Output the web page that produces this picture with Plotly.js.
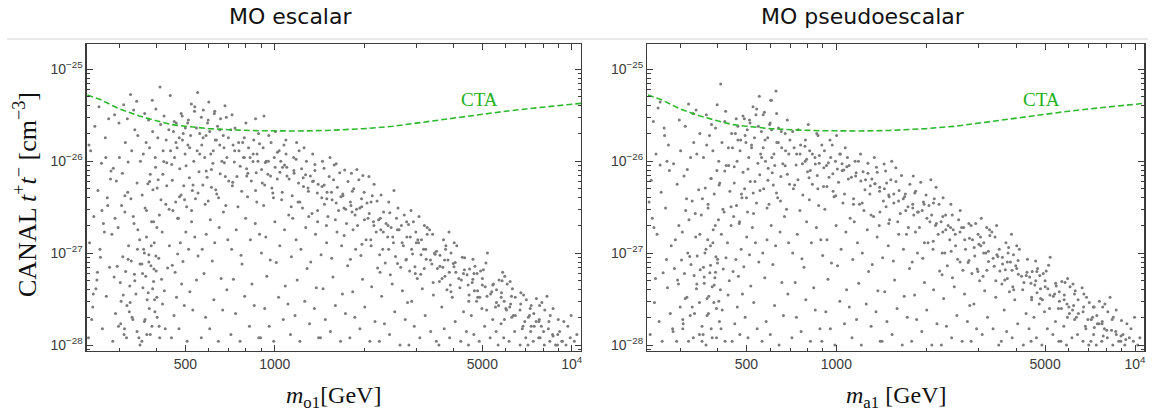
<!DOCTYPE html>
<html>
<head>
<meta charset="utf-8">
<script src="https://cdn.plot.ly/plotly-3.0.1.min.js"></script>
<style>html,body{margin:0;padding:0;background:#fff;}#chart{width:1157px;height:412px;}</style>
</head>
<body>
<div id="chart"></div>
<script>
// ---------- DATA ----------
const panelTitles = ['MO escalar', 'MO pseudoescalar'];
const xTitles = ['<i>m</i><sub>o1</sub>[GeV]', '<i>m</i><sub>a1</sub> [GeV]'];
const yTitle = 'CANAL <i>t</i><sup>+</sup><i>t</i><sup>\u2212</sup> [cm<sup>\u22123</sup>]';
const curveLabel = 'CTA';

const xTickVals = [500, 1000, 5000, 10000];
const xTickText = ['500', '1000', '5000', '10<sup>4</sup>'];
const xMinorVals = [300, 400, 600, 700, 800, 900, 2000, 3000, 4000, 6000, 7000, 8000, 9000];
const yTickVals = [1e-28, 1e-27, 1e-26, 1e-25];
const yTickText = ['10<sup>\u221228</sup>', '10<sup>\u221227</sup>', '10<sup>\u221226</sup>', '10<sup>\u221225</sup>'];
const yMinorVals = [9e-29,
  2e-28,3e-28,4e-28,5e-28,6e-28,7e-28,8e-28,9e-28,
  2e-27,3e-27,4e-27,5e-27,6e-27,7e-27,8e-27,9e-27,
  2e-26,3e-26,4e-26,5e-26,6e-26,7e-26,8e-26,9e-26];

// CTA sensitivity curve (same in both panels)
const ctaMass  = [234, 260, 300, 350, 400, 450, 500, 600, 700, 800, 900, 1000, 1200, 1500, 2000, 2500, 3000, 4000, 5000, 6000, 7000, 8000, 9000, 10000, 10800];
const ctaSigma = [5.25e-26, 4.65e-26, 3.7e-26, 3.1e-26, 2.75e-26, 2.5e-26, 2.4e-26, 2.26e-26, 2.2e-26, 2.16e-26, 2.14e-26, 2.14e-26, 2.13e-26, 2.16e-26, 2.26e-26, 2.4e-26, 2.6e-26, 2.95e-26, 3.26e-26, 3.5e-26, 3.7e-26, 3.85e-26, 4.0e-26, 4.15e-26, 4.27e-26];

// Scalar mediator scan points (mass in GeV, cross section in cm^3)
const escalarMass = [
 236,244,252,259,267,274,280,240,248,256,
 263,271,278,238,246,254,261,269,276,242,
 250,258,265,273,281,237,245,253,262,270,
 285,291,298,304,311,318,325,333,341,349,
 288,295,302,308,315,322,329,337,345,352,
 283,290,297,305,313,320,328,336,344,351,
 286,293,300,307,314,321,330,338,346,353,
 289,299,310,319,327,335,343,312,324,
 357,364,371,378,386,394,402,410,419,428,
 360,368,375,383,391,399,407,416,425,436,
 362,370,377,385,393,401,409,418,430,442,
 358,366,374,381,389,397,405,414,423,433,
 361,369,379,388,396,404,413,421,431,440,
 365,376,387,398,411,424,445,
 449,458,467,476,486,496,507,518,530,545,
 452,462,471,481,491,502,513,525,538,552,
 454,464,474,484,494,505,516,528,541,556,
 450,460,469,479,489,499,510,521,534,548,
 456,466,477,488,500,512,524,537,550,559,
 566,585,604,624,646,668,690,578,616,660,
 570,588,607,628,650,672,695,597,638,684,
 573,592,612,633,655,677,700,581,621,664,
 568,587,609,631,653,675,698,594,642,687,
 575,600,626,657,680,
 712,738,764,792,822,853,884,726,776,838,
 716,742,770,798,828,860,889,752,810,870,
 720,746,774,804,834,866,731,785,846,878,
 724,758,790,816,850,882,735,800,862,718,
 896,925,958,992,1030,1068,1108,940,1012,1085,
 902,933,966,1001,1040,1079,1115,918,985,1055,
 908,948,978,1020,1062,1100,930,996,1048,1092,
 914,972,1035,1074,955,1005,1090,920,
 1130,1170,1215,1262,1310,1360,1405,1190,1285,1380,
 1138,1180,1225,1272,1322,1372,1150,1240,1335,1395,
 1145,1198,1250,1298,1350,1400,1162,1232,1318,1365,
 1158,1208,1278,1342,1185,1255,
 1425,1480,1540,1600,1665,1730,1455,1570,1690,1760,
 1432,1495,1555,1620,1680,1745,1510,1640,1470,1710,
 1440,1500,1560,1625,1695,1765,1525,1655,1465,1585,
 1448,1535,1610,1720,
 1790,1860,1935,2010,2090,2175,1830,1975,2120,2220,
 1798,1872,1950,2030,2110,2195,1900,2060,1820,2150,
 1805,1885,1960,2045,2130,2210,1845,2000,2160,1920,
 1812,1890,2075,1980,
 2250,2340,2435,2535,2640,2750,2290,2485,2690,2800,
 2262,2355,2450,2550,2655,2765,2310,2510,2710,2400,
 2275,2370,2465,2570,2670,2780,2325,2600,2420,2730,
 2280,2520,
 2830,2950,3080,3210,3350,3500,2890,3140,3420,3020,
 2845,2965,3100,3235,3380,3530,2910,3170,3450,3050,
 2860,2985,3120,3260,3400,2930,3190,3320,3060,2875,
 3570,3720,3880,4050,4230,4420,3650,3960,4320,3800,
 3585,3740,3900,4070,4250,4440,3680,3990,4350,3830,
 3600,3760,3920,4100,4280,3700,4020,3860,
 4490,4680,4880,5090,5310,5560,4590,4980,5420,4780,
 4510,4700,4900,5110,5330,5580,4620,5000,5450,4800,
 4530,4720,4930,5140,4650,5200,
 5650,5900,6150,6420,6700,7000,5780,6280,6850,6030,
 5670,5920,6180,6450,6730,7030,5800,6310,6880,6060,
 5690,5950,6200,5850,
 7120,7420,7740,8080,8430,8820,7270,7900,8620,7580,
 7140,7450,7770,8110,8460,7300,7930,8650,7600,8250,
 8950,9250,9560,9880,10200,9100,9700,10400,9400,9950
];
const escalarSigma = [
 1.2e-28,2.6e-28,5.1e-28,9e-28,1.7e-27,3.3e-27,6.4e-27,1.3e-26,2.4e-26,3.9e-26,
 1.5e-28,3.4e-28,7e-28,1.3e-27,2.5e-27,4.8e-27,9.5e-27,1.8e-26,2.9e-26,1.9e-28,
 4.1e-28,1.1e-27,2.1e-27,4e-27,7.8e-27,1.5e-26,3.6e-28,6.2e-28,2.9e-27,1.1e-26,
 1.1e-28,2.2e-28,1.6e-28,3.0e-28,1.3e-28,2.7e-28,4.4e-28,1.9e-28,3.6e-28,1.2e-28,
 5.5e-28,7.2e-28,4.8e-28,9.1e-28,6.3e-28,1.2e-27,8.2e-28,5.9e-28,1.1e-27,7.6e-28,
 1.6e-27,2.4e-27,1.9e-27,3.3e-27,2.8e-27,4.6e-27,3.9e-27,2.1e-27,5.8e-27,1.4e-27,
 8.4e-27,6.1e-27,1.1e-26,7.4e-27,1.6e-26,9.8e-27,1.3e-26,2.2e-26,1.9e-26,1.0e-26,
 3.2e-26,2.6e-26,4.1e-26,2.9e-26,5.3e-26,3.6e-26,4.5e-26,1.5e-28,2.3e-28,
 1.1e-28,1.8e-28,1.3e-28,2.5e-28,1.6e-28,3.1e-28,2.0e-28,1.2e-28,2.8e-28,1.5e-28,
 4.2e-28,5.6e-28,3.7e-28,7.3e-28,4.9e-28,6.4e-28,8.8e-28,5.2e-28,3.9e-28,6.9e-28,
 1.1e-27,1.5e-27,9.6e-28,2.2e-27,1.3e-27,1.9e-27,2.6e-27,1.7e-27,3.4e-27,1.2e-27,
 4.3e-27,3.1e-27,5.7e-27,7.2e-27,4.9e-27,8.6e-27,6.3e-27,3.8e-27,9.9e-27,5.4e-27,
 1.2e-26,1.6e-26,1.4e-26,2.1e-26,1.1e-26,1.8e-26,2.5e-26,1.3e-26,1.7e-26,2.2e-26,
 3.3e-26,2.8e-26,4.6e-26,3.7e-26,6.4e-26,3.1e-26,5.2e-26,
 1.2e-28,2.1e-28,3.3e-28,1.5e-28,4.6e-28,2.7e-28,1.1e-28,3.8e-28,2.4e-28,5.1e-28,
 7.4e-28,6.2e-28,9.8e-28,1.3e-27,8.1e-28,1.7e-27,1.1e-27,2.2e-27,1.5e-27,9.3e-28,
 2.9e-27,3.6e-27,2.4e-27,4.3e-27,5.4e-27,3.2e-27,6.6e-27,4.8e-27,3.9e-27,7.7e-27,
 9.2e-27,1.1e-26,1.4e-26,8.3e-27,1.7e-26,1.2e-26,1.5e-26,1.9e-26,1.0e-26,1.3e-26,
 2.1e-26,2.6e-26,1.8e-26,3.1e-26,2.3e-26,2.8e-26,4.2e-26,3.5e-26,5.6e-26,2.0e-26,
 1.2e-28,2.0e-28,1.5e-28,3.1e-28,1.1e-28,2.4e-28,4.0e-28,6.0e-28,8.2e-28,5.3e-28,
 1.1e-27,1.6e-27,2.3e-27,1.3e-27,1.9e-27,2.8e-27,1.4e-27,3.7e-27,4.4e-27,3.3e-27,
 5.5e-27,6.7e-27,8.1e-27,4.9e-27,7.3e-27,9.6e-27,6.1e-27,1.1e-26,1.3e-26,1.0e-26,
 1.5e-26,1.9e-26,1.2e-26,1.7e-26,2.2e-26,1.4e-26,1.8e-26,2.6e-26,2.4e-26,3.0e-26,
 3.6e-26,4.4e-26,3.3e-26,2.9e-26,4.0e-26,
 1.3e-28,2.2e-28,1.1e-28,3.4e-28,1.6e-28,2.7e-28,1.2e-28,5.2e-28,7.6e-28,4.6e-28,
 1.1e-27,1.8e-27,9.5e-28,2.4e-27,1.4e-27,2.1e-27,1.6e-27,3.2e-27,4.1e-27,3.6e-27,
 5.4e-27,6.8e-27,4.7e-27,8.3e-27,6.1e-27,7.5e-27,9.8e-27,1.1e-26,1.2e-26,1.0e-26,
 1.5e-26,1.3e-26,1.8e-26,1.4e-26,1.7e-26,2.0e-26,2.3e-26,2.6e-26,2.9e-26,3.2e-26,
 1.2e-28,2.5e-28,1.6e-28,1.1e-28,3.3e-28,1.9e-28,2.8e-28,5.6e-28,7.9e-28,4.4e-28,
 1.0e-27,1.5e-27,8.4e-28,2.2e-27,1.2e-27,1.8e-27,2.6e-27,3.3e-27,4.5e-27,3.8e-27,
 5.8e-27,7.2e-27,5.1e-27,6.4e-27,8.6e-27,6.9e-27,9.7e-27,1.1e-26,1.0e-26,1.2e-26,
 1.4e-26,1.6e-26,1.3e-26,1.5e-26,1.9e-26,2.1e-26,1.7e-26,3.1e-26,
 1.3e-28,2.1e-28,1.1e-28,3.0e-28,1.7e-28,2.5e-28,1.2e-28,5.1e-28,6.8e-28,4.2e-28,
 9.1e-28,1.4e-27,1.1e-27,1.9e-27,8.0e-28,1.6e-27,2.4e-27,3.1e-27,2.7e-27,2.2e-27,
 4.2e-27,3.6e-27,5.3e-27,4.7e-27,6.1e-27,5.6e-27,7.4e-27,8.3e-27,6.9e-27,9.2e-27,
 1.1e-26,1.3e-26,1.0e-26,1.2e-26,1.6e-26,1.4e-26,
 1.2e-28,1.9e-28,1.4e-28,2.7e-28,1.1e-28,2.2e-28,4.1e-28,5.5e-28,3.6e-28,7.3e-28,
 9.6e-28,1.3e-27,8.8e-28,1.7e-27,1.2e-27,2.1e-27,2.5e-27,2.9e-27,3.4e-27,3.1e-27,
 4.0e-27,4.6e-27,3.8e-27,5.2e-27,4.4e-27,6.0e-27,6.8e-27,7.5e-27,8.4e-27,9.1e-27,
 1.0e-26,1.1e-26,9.4e-27,8.0e-27,
 1.2e-28,2.0e-28,1.5e-28,2.6e-28,1.1e-28,1.8e-28,3.8e-28,5.2e-28,4.3e-28,6.9e-28,
 8.6e-28,1.1e-27,9.4e-28,1.4e-27,1.2e-27,1.7e-27,2.0e-27,2.4e-27,2.8e-27,2.2e-27,
 3.3e-27,3.0e-27,3.9e-27,3.5e-27,4.2e-27,3.7e-27,5.0e-27,4.6e-27,5.6e-27,6.3e-27,
 7.4e-27,8.1e-27,6.8e-27,7.0e-27,
 1.1e-28,1.7e-28,1.3e-28,2.3e-28,1.0e-28,1.9e-28,3.4e-28,4.6e-28,3.9e-28,2.9e-28,
 6.2e-28,7.8e-28,5.8e-28,9.2e-28,7.0e-28,8.4e-28,1.1e-27,1.3e-27,1.2e-27,1.5e-27,
 1.8e-27,2.1e-27,1.9e-27,2.4e-27,2.0e-27,2.2e-27,2.8e-27,3.1e-27,3.6e-27,2.6e-27,
 4.3e-27,4.8e-27,
 1.0e-28,1.6e-28,1.2e-28,2.1e-28,1.4e-28,1.1e-28,3.0e-28,4.1e-28,3.5e-28,5.3e-28,
 6.4e-28,7.1e-28,5.9e-28,8.6e-28,7.6e-28,6.8e-28,9.8e-28,1.1e-27,1.0e-27,1.3e-27,
 1.5e-27,1.7e-27,1.4e-27,1.9e-27,1.6e-27,2.2e-27,2.0e-27,1.8e-27,2.5e-27,2.9e-27,
 1.0e-28,1.5e-28,1.2e-28,1.8e-28,1.1e-28,1.4e-28,2.6e-28,3.3e-28,2.3e-28,4.0e-28,
 4.9e-28,5.6e-28,4.5e-28,6.2e-28,5.1e-28,5.8e-28,7.0e-28,7.7e-28,6.6e-28,8.4e-28,
 9.5e-28,1.1e-27,1.0e-27,1.2e-27,9.0e-28,1.4e-27,1.3e-27,1.7e-27,
 1.0e-28,1.3e-28,1.1e-28,1.6e-28,1.2e-28,1.4e-28,2.1e-28,2.5e-28,1.9e-28,3.0e-28,
 3.5e-28,3.9e-28,3.3e-28,4.3e-28,3.6e-28,4.0e-28,4.8e-28,5.3e-28,4.6e-28,6.0e-28,
 6.7e-28,7.2e-28,6.4e-28,7.8e-28,8.6e-28,1.0e-27,
 1.0e-28,1.2e-28,1.1e-28,1.4e-28,1.0e-28,1.2e-28,1.7e-28,2.0e-28,1.6e-28,2.4e-28,
 2.7e-28,3.0e-28,2.6e-28,3.3e-28,2.8e-28,3.1e-28,3.7e-28,4.1e-28,3.5e-28,4.6e-28,
 5.1e-28,5.6e-28,4.9e-28,6.2e-28,
 1.0e-28,1.1e-28,1.2e-28,1.0e-28,1.1e-28,1.0e-28,1.4e-28,1.6e-28,1.3e-28,1.8e-28,
 2.0e-28,2.2e-28,1.9e-28,2.4e-28,2.1e-28,2.7e-28,2.9e-28,2.5e-28,3.2e-28,3.4e-28,
 1.0e-28,1.1e-28,1.0e-28,1.2e-28,1.1e-28,1.4e-28,1.6e-28,1.3e-28,1.8e-28,2.1e-28
];

// Scalar: extra points in the dense regions (low streak, mid cloud, diagonal band)
const escalarDenseMass = [
 303,317,331,344,309,326,338,352,366,381,
 395,372,388,401,359,377,392,408,364,384,
 398,370,391,357,402,379,346,321,334,313,
 452,478,503,531,559,588,619,653,690,733,
 465,492,517,545,574,604,636,671,711,756,
 441,471,497,525,552,583,612,647,682,722,
 420,433,446,459,484,509,538,566,597,628,
 765,790,812,845,872,903,936,968,1003,1041,
 1079,1118,1160,1203,1247,1294,1341,1391,1443,1497,
 1552,1610,1670,1732,1797,1864,1933,2005,2080,2157,
 2237,2320,2407,2496,2589,2685,2785,2889,2996,3108,
 3223,3343,3468,3597,3730,3869,4013,4163,4318,4478,
 4645,4818,4997,5183,5376,5576,5784,6000,6223,6455,
 6695,6945,7204,7472,7750,8038,8338,8648,8970,9304,
 780,826,889,952,1021,1098,1180,1270,1365,1468,
 1578,1697,1825,1962,2110,2268,2439,2622,2820,3032,
 3260,3505,3769,4053,4358,4686,5039,5418,5826,6265,
 6736,7243,7789,8375,9005,
 805,862,925,990,1060,1136,1215,1302,1394,1493,
 1600,1712,1835,1966,2105,2256,2418,2590,2775,2973,
 3186,3414,3658,3919,4200,4500,4822,5167,5536,5933,
 6357,6812,7300,7822
];
const escalarDenseSigma = [
 1.7e-28,1.2e-28,2.0e-28,1.4e-28,3.5e-28,2.9e-28,5.0e-28,1.0e-28,1.9e-28,1.3e-28,
 2.3e-28,3.1e-28,4.1e-28,3.3e-28,6.0e-28,8.0e-28,6.7e-28,1.6e-28,1.0e-27,1.2e-27,
 9.3e-28,2.9e-27,2.2e-27,7.6e-28,5.1e-27,6.0e-27,1.8e-27,8.6e-28,2.5e-27,4.2e-27,
 6.2e-27,4.1e-27,8.9e-27,5.5e-27,1.2e-26,7.8e-27,9.5e-27,1.5e-26,1.1e-26,1.3e-26,
 1.6e-26,2.0e-26,1.4e-26,2.3e-26,1.8e-26,2.1e-26,1.7e-26,1.9e-26,2.2e-26,1.6e-26,
 3.0e-27,2.4e-27,3.8e-27,2.9e-27,4.5e-27,3.4e-27,5.2e-27,4.0e-27,6.8e-27,5.9e-27,
 7.2e-27,9.6e-27,1.3e-26,2.7e-26,3.3e-26,2.6e-26,3.9e-26,3.0e-26,2.8e-26,3.5e-26,
 8.8e-27,1.1e-26,7.4e-27,9.9e-27,1.2e-26,8.1e-27,1.0e-26,6.9e-27,8.6e-27,7.6e-27,
 9.1e-27,6.4e-27,7.9e-27,5.8e-27,6.6e-27,5.1e-27,6.0e-27,4.5e-27,5.3e-27,3.9e-27,
 4.6e-27,3.5e-27,4.1e-27,3.0e-27,3.6e-27,2.6e-27,3.1e-27,2.3e-27,2.7e-27,2.0e-27,
 2.3e-27,1.7e-27,2.0e-27,1.5e-27,1.8e-27,1.3e-27,1.5e-27,1.1e-27,1.3e-27,9.6e-28,
 1.1e-27,8.4e-28,9.7e-28,7.2e-28,8.4e-28,6.2e-28,7.1e-28,5.3e-28,6.0e-28,4.5e-28,
 5.2e-28,3.9e-28,4.5e-28,3.4e-28,3.8e-28,2.9e-28,3.3e-28,2.5e-28,2.8e-28,2.1e-28,
 2.4e-28,1.8e-28,2.1e-28,1.6e-28,1.8e-28,1.4e-28,1.5e-28,1.25e-28,1.3e-28,1.1e-28,
 1.6e-26,1.1e-26,1.55e-26,1.0e-26,1.25e-26,8.6e-27,1.05e-26,7.1e-27,7.9e-27,5.5e-27,
 6.3e-27,4.2e-27,4.7e-27,3.2e-27,3.6e-27,2.4e-27,2.75e-27,1.8e-27,2.05e-27,1.4e-27,
 1.6e-27,1.05e-27,1.2e-27,7.9e-28,8.9e-28,6.0e-28,6.6e-28,4.5e-28,5.0e-28,3.4e-28,
 3.7e-28,2.5e-28,2.7e-28,1.8e-28,1.9e-28,
 6.9e-27,4.8e-27,5.5e-27,4.0e-27,4.6e-27,3.2e-27,3.6e-27,2.5e-27,2.9e-27,2.0e-27,
 2.3e-27,1.55e-27,1.8e-27,1.25e-27,1.4e-27,9.6e-28,1.1e-27,7.7e-28,8.6e-28,6.0e-28,
 6.8e-28,4.8e-28,5.3e-28,3.8e-28,4.2e-28,3.0e-28,3.3e-28,2.4e-28,2.6e-28,1.9e-28,
 2.1e-28,1.5e-28,1.6e-28,1.2e-28
];

// Pseudoscalar mediator scan points
const pseudoMass = [
 238,246,255,263,272,280,242,251,259,268,
 276,240,249,257,266,274,244,253,261,270,
 278,236,248,265,271,257,283,245,
 284,292,300,307,316,324,332,340,348,355,
 287,294,303,310,318,326,334,342,350,296,
 289,297,305,313,321,329,338,346,353,309,
 285,293,301,317,325,333,341,349,312,331,
 298,320,339,306,
 358,366,373,381,389,397,406,415,424,434,
 361,369,377,384,392,400,409,418,427,438,
 363,371,379,387,395,403,412,421,432,444,
 356,364,372,380,390,398,407,417,428,440,
 359,368,376,386,394,404,414,423,435,446,
 367,382,399,410,426,
 448,457,466,475,485,495,506,517,529,543,
 451,461,470,480,490,501,512,523,536,550,
 453,463,473,483,493,504,515,527,540,554,
 455,465,476,487,498,509,520,532,546,558,
 459,468,478,492,503,514,526,538,552,561,
 564,582,601,621,643,665,688,576,613,657,
 567,586,605,626,648,670,692,595,636,681,
 571,590,610,630,652,674,697,579,618,662,
 569,589,608,632,654,676,699,598,640,685,
 574,603,628,606,
 710,735,762,790,819,850,881,728,779,840,
 714,740,767,795,825,857,887,755,812,872,
 718,744,772,801,831,863,733,786,848,876,
 722,756,788,814,868,745,805,860,
 894,922,955,989,1027,1065,1105,937,1009,1082,
 900,930,963,998,1037,1076,1112,915,982,1052,
 906,945,975,1017,1059,1097,927,993,1045,1089,
 912,969,1032,1071,952,1002,
 1128,1168,1212,1259,1307,1357,1402,1188,1282,1377,
 1135,1177,1222,1269,1319,1369,1148,1237,1332,1392,
 1142,1195,1247,1295,1347,1397,1160,1229,1315,1362,
 1155,1205,1275,1340,
 1422,1477,1537,1597,1662,1727,1452,1567,1687,1757,
 1429,1492,1552,1617,1677,1742,1507,1637,1467,1707,
 1437,1497,1557,1622,1692,1762,1522,1652,1462,1582,
 1445,1532,
 1787,1857,1932,2007,2087,2172,1827,1972,2117,2217,
 1795,1869,1947,2027,2107,2192,1897,2057,1817,2147,
 1802,1882,1957,2042,2127,2207,1842,1997,2157,1917,
 1809,2072,
 2247,2337,2432,2532,2637,2747,2287,2482,2687,2797,
 2259,2352,2447,2547,2652,2762,2307,2507,2707,2397,
 2272,2367,2462,2567,2667,2777,2322,2597,2417,2277,
 2827,2947,3077,3207,3347,3497,2887,3137,3417,3017,
 2842,2962,3097,3232,3377,3527,2907,3167,3447,3047,
 2857,2982,3117,3257,3397,2927,3187,3317,3057,3440,
 3567,3717,3877,4047,4227,4417,3647,3957,4317,3797,
 3582,3737,3897,4067,4247,4437,3677,3987,4347,3827,
 3597,3757,3917,4097,3697,4017,3857,
 4487,4677,4877,5087,5307,5557,4587,4977,5417,4777,
 4507,4697,4897,5107,5327,5577,4617,4997,5447,4797,
 4527,4717,4927,5137,4647,5197,
 5647,5897,6147,6417,6697,6997,5777,6277,6847,6027,
 5667,5917,6177,6447,6727,7027,5797,6307,6877,6057,
 5687,5947,6197,6650,
 7117,7417,7737,8077,8427,8817,7267,7897,8617,7577,
 7137,7447,7767,8107,8457,7297,7927,8647,7597,8247,
 8960,9240,9570,9870,10210,9110,9690,10380,9390,9960
];
const pseudoSigma = [
 1.3e-28,2.9e-28,1.8e-28,6.1e-28,4.2e-28,1.2e-27,2.4e-27,1.6e-27,4.6e-27,3.1e-27,
 7.9e-27,6.2e-27,1.2e-26,9.1e-27,1.9e-26,1.5e-26,2.7e-26,3.8e-26,1.1e-28,8.5e-28,
 2.2e-28,3.6e-27,5.3e-28,2.3e-26,1.0e-26,4.4e-26,1.5e-28,1.9e-27,
 1.4e-28,1.1e-28,2.6e-28,1.7e-28,3.3e-28,2.1e-28,1.2e-28,4.1e-28,2.9e-28,1.6e-28,
 6.8e-28,5.1e-28,8.4e-28,6.0e-28,1.0e-27,7.5e-28,5.7e-28,9.3e-28,6.6e-28,4.6e-28,
 1.4e-27,2.0e-27,1.7e-27,2.9e-27,2.3e-27,3.7e-27,1.5e-27,4.9e-27,2.6e-27,6.9e-27,
 9.4e-27,5.6e-27,1.3e-26,8.1e-27,1.1e-26,1.6e-26,1.2e-26,2.0e-26,2.4e-26,3.3e-26,
 2.8e-26,4.2e-26,3.6e-26,1.9e-28,
 1.3e-28,1.0e-28,2.2e-28,1.5e-28,2.9e-28,1.2e-28,1.8e-28,2.4e-28,1.1e-28,3.5e-28,
 4.7e-28,3.2e-28,6.1e-28,4.3e-28,5.4e-28,7.8e-28,4.0e-28,6.7e-28,8.9e-28,5.0e-28,
 1.0e-27,1.4e-27,1.2e-27,1.8e-27,9.1e-28,2.3e-27,1.6e-27,2.8e-27,1.3e-27,2.0e-27,
 3.9e-27,5.1e-27,3.4e-27,6.5e-27,4.4e-27,7.9e-27,5.8e-27,3.0e-27,9.0e-27,4.7e-27,
 1.1e-26,1.5e-26,1.9e-26,1.3e-26,2.3e-26,1.0e-26,1.6e-26,2.7e-26,1.4e-26,2.0e-26,
 3.2e-26,2.5e-26,4.1e-26,6.9e-26,3.5e-26,
 1.1e-28,1.7e-28,2.6e-28,1.3e-28,3.6e-28,2.0e-28,1.2e-28,4.4e-28,2.9e-28,1.5e-28,
 6.3e-28,8.5e-28,5.6e-28,1.1e-27,7.1e-28,1.5e-27,9.6e-28,1.9e-27,1.3e-27,8.0e-28,
 2.5e-27,3.3e-27,2.1e-27,4.0e-27,5.0e-27,2.8e-27,6.0e-27,4.5e-27,3.5e-27,7.1e-27,
 8.7e-27,1.0e-26,1.3e-26,7.6e-27,1.6e-26,1.1e-26,1.4e-26,1.8e-26,9.5e-27,1.2e-26,
 2.0e-26,2.4e-26,1.7e-26,2.9e-26,2.2e-26,2.6e-26,3.9e-26,3.2e-26,5.1e-26,2.1e-26,
 1.1e-28,1.8e-28,1.3e-28,2.7e-28,1.0e-28,2.1e-28,3.6e-28,5.4e-28,7.5e-28,4.8e-28,
 1.0e-27,1.4e-27,2.0e-27,1.2e-27,1.7e-27,2.5e-27,1.3e-27,3.4e-27,4.0e-27,3.0e-27,
 5.0e-27,6.2e-27,7.5e-27,4.5e-27,6.8e-27,8.9e-27,5.6e-27,1.0e-26,1.2e-26,9.4e-27,
 1.4e-26,1.8e-26,1.1e-26,1.6e-26,2.1e-26,1.3e-26,1.7e-26,2.5e-26,2.3e-26,2.8e-26,
 3.4e-26,4.6e-26,5.8e-26,4.6e-26,
 1.2e-28,2.0e-28,1.4e-28,3.1e-28,1.1e-28,2.4e-28,1.5e-28,4.8e-28,7.0e-28,4.2e-28,
 1.0e-27,1.6e-27,8.7e-28,2.2e-27,1.3e-27,1.9e-27,1.4e-27,2.9e-27,3.8e-27,3.3e-27,
 5.0e-27,6.3e-27,4.3e-27,7.7e-27,5.6e-27,7.0e-27,9.1e-27,1.0e-26,1.1e-26,9.5e-27,
 1.4e-26,1.2e-26,1.7e-26,1.3e-26,1.9e-26,2.2e-26,2.5e-26,2.0e-26,
 1.1e-28,2.3e-28,1.5e-28,1.0e-28,3.0e-28,1.7e-28,2.6e-28,5.2e-28,7.3e-28,4.0e-28,
 9.4e-28,1.4e-27,7.8e-28,2.0e-27,1.1e-27,1.7e-27,2.4e-27,3.0e-27,4.1e-27,3.5e-27,
 5.3e-27,6.7e-27,4.7e-27,5.9e-27,8.0e-27,6.4e-27,9.0e-27,1.0e-26,9.4e-27,1.1e-26,
 1.3e-26,1.5e-26,1.2e-26,1.4e-26,1.7e-26,1.9e-26,
 1.2e-28,1.9e-28,1.0e-28,2.8e-28,1.6e-28,2.3e-28,1.1e-28,4.7e-28,6.3e-28,3.9e-28,
 8.5e-28,1.3e-27,1.0e-27,1.8e-27,7.5e-28,1.5e-27,2.2e-27,2.9e-27,2.5e-27,2.0e-27,
 3.9e-27,3.4e-27,4.9e-27,4.4e-27,5.7e-27,5.2e-27,6.9e-27,7.7e-27,6.4e-27,8.6e-27,
 1.0e-26,1.2e-26,9.5e-27,1.1e-26,
 1.1e-28,1.8e-28,1.3e-28,2.5e-28,1.0e-28,2.0e-28,3.8e-28,5.1e-28,3.4e-28,6.8e-28,
 8.9e-28,1.2e-27,8.2e-28,1.6e-27,1.1e-27,1.9e-27,2.3e-27,2.7e-27,3.2e-27,2.9e-27,
 3.7e-27,4.3e-27,3.5e-27,4.8e-27,4.1e-27,5.6e-27,6.3e-27,7.0e-27,7.8e-27,8.5e-27,
 9.3e-27,1.0e-26,
 1.1e-28,1.9e-28,1.4e-28,2.4e-28,1.0e-28,1.7e-28,3.5e-28,4.8e-28,4.0e-28,6.4e-28,
 8.0e-28,1.0e-27,8.8e-28,1.3e-27,1.1e-27,1.6e-27,1.9e-27,2.2e-27,2.6e-27,2.0e-27,
 3.1e-27,2.8e-27,3.6e-27,3.3e-27,3.9e-27,3.4e-27,4.7e-27,4.3e-27,5.2e-27,5.9e-27,
 6.9e-27,6.3e-27,
 1.0e-28,1.6e-28,1.2e-28,2.1e-28,1.1e-28,1.8e-28,3.2e-28,4.3e-28,3.6e-28,2.7e-28,
 5.8e-28,7.3e-28,5.4e-28,8.6e-28,6.5e-28,7.9e-28,1.0e-27,1.2e-27,1.1e-27,1.4e-27,
 1.7e-27,2.0e-27,1.8e-27,2.3e-27,1.9e-27,2.1e-27,2.6e-27,2.9e-27,3.4e-27,4.0e-27,
 1.1e-28,1.5e-28,1.3e-28,2.0e-28,1.5e-28,1.0e-28,2.8e-28,3.9e-28,3.3e-28,5.0e-28,
 6.0e-28,6.7e-28,5.6e-28,8.1e-28,7.2e-28,6.4e-28,9.3e-28,1.0e-27,9.6e-28,1.2e-27,
 1.4e-27,1.6e-27,1.3e-27,1.8e-27,1.5e-27,2.1e-27,1.9e-27,1.7e-27,2.4e-27,2.0e-27,
 1.1e-28,1.4e-28,1.2e-28,1.7e-28,1.0e-28,1.5e-28,2.4e-28,3.1e-28,2.2e-28,3.8e-28,
 4.6e-28,5.3e-28,4.3e-28,5.9e-28,4.8e-28,5.5e-28,6.6e-28,7.3e-28,6.2e-28,8.0e-28,
 9.0e-28,1.0e-27,9.6e-28,1.1e-27,1.3e-27,1.2e-27,1.6e-27,
 1.1e-28,1.2e-28,1.0e-28,1.5e-28,1.3e-28,1.1e-28,2.0e-28,2.3e-28,1.8e-28,2.8e-28,
 3.3e-28,3.7e-28,3.1e-28,4.1e-28,3.4e-28,3.8e-28,4.5e-28,5.0e-28,4.4e-28,5.7e-28,
 6.3e-28,6.8e-28,6.0e-28,7.4e-28,8.2e-28,9.0e-28,
 1.1e-28,1.0e-28,1.2e-28,1.3e-28,1.1e-28,1.0e-28,1.6e-28,1.9e-28,1.5e-28,2.2e-28,
 2.5e-28,2.8e-28,2.4e-28,3.1e-28,2.6e-28,2.9e-28,3.5e-28,3.9e-28,3.3e-28,4.3e-28,
 4.9e-28,5.3e-28,4.6e-28,4.2e-28,
 1.1e-28,1.0e-28,1.1e-28,1.2e-28,1.0e-28,1.1e-28,1.3e-28,1.5e-28,1.4e-28,1.7e-28,
 1.9e-28,2.1e-28,1.8e-28,2.3e-28,2.0e-28,2.6e-28,2.8e-28,2.4e-28,3.0e-28,3.3e-28,
 1.1e-28,1.0e-28,1.2e-28,1.1e-28,1.0e-28,1.3e-28,1.5e-28,1.2e-28,1.7e-28,2.0e-28
];

// Pseudoscalar: extra points in the dense regions
const pseudoDenseMass = [
 306,320,335,348,312,329,341,355,369,384,
 397,374,390,404,361,379,394,411,366,386,
 400,372,393,359,405,381,349,323,337,315,
 455,481,506,534,562,591,622,656,693,736,
 468,495,520,548,577,607,639,674,714,759,
 444,474,500,528,555,586,615,650,685,725,
 423,436,449,462,487,512,541,569,600,631,
 770,795,818,850,877,908,941,973,1008,1046,
 1084,1123,1165,1208,1252,1299,1346,1396,1448,1502,
 1557,1615,1675,1737,1802,1869,1938,2010,2085,2162,
 2242,2325,2412,2501,2594,2690,2790,2894,3001,3113,
 3228,3348,3473,3602,3735,3874,4018,4168,4323,4483,
 4650,4823,5002,5188,5381,5581,5789,6005,6228,6460,
 6700,6950,7209,7477,7755,8043,8343,8653,8975,9309,
 785,831,894,957,1026,1103,1185,1275,1370,1473,
 1583,1702,1830,1967,2115,2273,2444,2627,2825,3037,
 3265,3510,3774,4058,4363,4691,5044,5423,5831,6270,
 6741,7248,7794,8380,9010,
 810,867,930,995,1065,1141,1220,1307,1399,1498,
 1605,1717,1840,1971,2110,2261,2423,2595,2780,2978,
 3191,3419,3663,3924,4205,4505,4827,5172,5541,5938,
 6362,6817,7305,7827
];
const pseudoDenseSigma = [
 1.5e-28,1.1e-28,2.2e-28,1.3e-28,3.2e-28,2.6e-28,4.6e-28,1.1e-28,2.1e-28,1.2e-28,
 2.5e-28,3.4e-28,4.5e-28,3.0e-28,5.5e-28,7.4e-28,6.2e-28,1.5e-28,1.1e-27,1.3e-27,
 8.6e-28,3.1e-27,2.0e-27,7.0e-28,5.5e-27,6.5e-27,1.6e-27,9.2e-28,2.7e-27,3.9e-27,
 5.8e-27,4.4e-27,8.2e-27,6.0e-27,1.1e-26,8.4e-27,9.0e-27,1.4e-26,1.2e-26,1.2e-26,
 1.7e-26,1.9e-26,1.5e-26,2.4e-26,1.7e-26,2.2e-26,1.6e-26,2.0e-26,2.1e-26,1.5e-26,
 3.2e-27,2.2e-27,4.0e-27,2.7e-27,4.8e-27,3.1e-27,5.5e-27,3.7e-27,7.2e-27,5.5e-27,
 7.8e-27,9.0e-27,1.4e-26,2.9e-26,3.1e-26,2.8e-26,3.7e-26,3.2e-26,2.6e-26,3.3e-26,
 9.4e-27,1.05e-26,7.9e-27,9.3e-27,1.15e-26,8.5e-27,9.6e-27,7.3e-27,8.2e-27,7.9e-27,
 8.7e-27,6.7e-27,7.5e-27,6.1e-27,6.3e-27,5.4e-27,5.7e-27,4.7e-27,5.0e-27,4.1e-27,
 4.4e-27,3.7e-27,3.9e-27,3.2e-27,3.4e-27,2.8e-27,2.9e-27,2.4e-27,2.6e-27,2.1e-27,
 2.2e-27,1.8e-27,1.9e-27,1.6e-27,1.7e-27,1.4e-27,1.45e-27,1.15e-27,1.25e-27,1.0e-27,
 1.05e-27,8.8e-28,9.2e-28,7.6e-28,8.0e-28,6.5e-28,6.8e-28,5.6e-28,5.7e-28,4.7e-28,
 5.0e-28,4.1e-28,4.3e-28,3.5e-28,3.6e-28,3.0e-28,3.1e-28,2.6e-28,2.7e-28,2.2e-28,
 2.3e-28,1.9e-28,2.0e-28,1.7e-28,1.7e-28,1.45e-28,1.45e-28,1.3e-28,1.25e-28,1.15e-28,
 1.45e-26,1.2e-26,1.5e-26,1.1e-26,1.2e-26,9.0e-27,1.0e-26,7.4e-27,7.6e-27,5.8e-27,
 6.0e-27,4.4e-27,4.5e-27,3.4e-27,3.5e-27,2.5e-27,2.6e-27,1.9e-27,2.0e-27,1.5e-27,
 1.55e-27,1.1e-27,1.15e-27,8.3e-28,8.6e-28,6.3e-28,6.4e-28,4.7e-28,4.8e-28,3.6e-28,
 3.6e-28,2.6e-28,2.6e-28,1.9e-28,1.85e-28,
 6.6e-27,5.0e-27,5.3e-27,4.2e-27,4.4e-27,3.4e-27,3.5e-27,2.6e-27,2.8e-27,2.1e-27,
 2.2e-27,1.6e-27,1.7e-27,1.3e-27,1.35e-27,1.0e-27,1.05e-27,8.0e-28,8.3e-28,6.3e-28,
 6.5e-28,5.0e-28,5.1e-28,4.0e-28,4.0e-28,3.1e-28,3.2e-28,2.5e-28,2.5e-28,2.0e-28,
 2.0e-28,1.6e-28,1.55e-28,1.25e-28
];

// ---------- CHART ----------
const W = 1157, H = 412;
const fx = p => p / W;          // pixel -> paper (x)
const fy = p => 1 - p / H;      // pixel -> paper (y)

const pointStyle = {color: '#7b7b7b', size: 3};
const ctaStyle = {color: '#2eb82e', width: 1.6, dash: '6px,3px'};

const traces = [
  {type: 'scatter', mode: 'markers', x: escalarMass, y: escalarSigma, xaxis: 'x', yaxis: 'y', marker: pointStyle, hoverinfo: 'skip'},
  {type: 'scatter', mode: 'markers', x: escalarDenseMass, y: escalarDenseSigma, xaxis: 'x', yaxis: 'y', marker: pointStyle, hoverinfo: 'skip'},
  {type: 'scatter', mode: 'lines', x: ctaMass, y: ctaSigma, xaxis: 'x', yaxis: 'y', line: ctaStyle, hoverinfo: 'skip'},
  {type: 'scatter', mode: 'markers', x: pseudoMass, y: pseudoSigma, xaxis: 'x2', yaxis: 'y2', marker: pointStyle, hoverinfo: 'skip'},
  {type: 'scatter', mode: 'markers', x: pseudoDenseMass, y: pseudoDenseSigma, xaxis: 'x2', yaxis: 'y2', marker: pointStyle, hoverinfo: 'skip'},
  {type: 'scatter', mode: 'lines', x: ctaMass, y: ctaSigma, xaxis: 'x2', yaxis: 'y2', line: ctaStyle, hoverinfo: 'skip'}
];

const tickFontX = {family: 'Liberation Sans, Arial, sans-serif', size: 14, color: '#3a3a3a'};
const tickFontY = {family: 'Liberation Sans, Arial, sans-serif', size: 14, color: '#3a3a3a'};

function xAxis(domain, anchor) {
  return {
    type: 'log', range: [2.367, 4.031], domain: domain, anchor: anchor,
    showline: true, mirror: 'ticks', linecolor: '#3c3c3c', linewidth: 1.3,
    ticks: 'inside', ticklen: 6, tickwidth: 1, tickcolor: '#3c3c3c',
    tickmode: 'array', tickvals: xTickVals, ticktext: xTickText, tickfont: tickFontX,
    minor: {ticks: 'inside', ticklen: 3.5, tickwidth: 1, tickcolor: '#3c3c3c', tickmode: 'array', tickvals: xMinorVals, showgrid: false},
    showgrid: false, zeroline: false, fixedrange: true
  };
}
function yAxis(domain, anchor) {
  return {
    type: 'log', range: [-28.065, -24.725], domain: domain, anchor: anchor,
    showline: true, mirror: 'ticks', linecolor: '#3c3c3c', linewidth: 1.3,
    ticks: 'inside', ticklen: 6, tickwidth: 1, tickcolor: '#3c3c3c',
    tickmode: 'array', tickvals: yTickVals, ticktext: yTickText, tickfont: tickFontY,
    minor: {ticks: 'inside', ticklen: 3.5, tickwidth: 1, tickcolor: '#3c3c3c', tickmode: 'array', tickvals: yMinorVals, showgrid: false},
    showgrid: false, zeroline: false, fixedrange: true
  };
}

const yDom = [fy(351), fy(44)];
const serif = 'Liberation Serif, Times New Roman, serif';

const layout = {
  width: W, height: H,
  margin: {l: 0, r: 0, t: 0, b: 0},
  paper_bgcolor: '#ffffff', plot_bgcolor: '#ffffff',
  showlegend: false,
  xaxis: xAxis([fx(86.7), fx(581)], 'y'),
  yaxis: yAxis(yDom, 'x'),
  xaxis2: xAxis([fx(647.3), fx(1144.3)], 'y2'),
  yaxis2: yAxis(yDom, 'x2'),
  shapes: [
    {type: 'line', xref: 'paper', yref: 'paper', x0: fx(7), x1: fx(1148), y0: fy(39), y1: fy(39), line: {color: '#d2d2d2', width: 1}}
  ],
  annotations: [
    {text: panelTitles[0], x: fx(290), y: fy(17), xref: 'paper', yref: 'paper', showarrow: false, xanchor: 'center', yanchor: 'middle', font: {family: 'DejaVu Sans, sans-serif', size: 22, color: '#111'}},
    {text: panelTitles[1], x: fx(863), y: fy(17), xref: 'paper', yref: 'paper', showarrow: false, xanchor: 'center', yanchor: 'middle', font: {family: 'DejaVu Sans, sans-serif', size: 22, color: '#111'}},
    {text: curveLabel, x: fx(479.5), y: fy(99), xref: 'paper', yref: 'paper', showarrow: false, xanchor: 'center', yanchor: 'middle', font: {family: serif, size: 19, color: '#22b022'}},
    {text: curveLabel, x: fx(1041), y: fy(99), xref: 'paper', yref: 'paper', showarrow: false, xanchor: 'center', yanchor: 'middle', font: {family: serif, size: 19, color: '#22b022'}},
    {text: yTitle, x: fx(25), y: fy(195), xref: 'paper', yref: 'paper', showarrow: false, textangle: -90, xanchor: 'center', yanchor: 'middle', font: {family: serif, size: 26, color: '#111'}},
    {text: xTitles[0], x: fx(333.5), y: fy(397), xref: 'paper', yref: 'paper', showarrow: false, xanchor: 'center', yanchor: 'middle', font: {family: serif, size: 24, color: '#111'}},
    {text: xTitles[1], x: fx(896), y: fy(397), xref: 'paper', yref: 'paper', showarrow: false, xanchor: 'center', yanchor: 'middle', font: {family: serif, size: 24, color: '#111'}}
  ]
};

Plotly.newPlot('chart', traces, layout, {staticPlot: true, displayModeBar: false});
</script>
</body>
</html>
